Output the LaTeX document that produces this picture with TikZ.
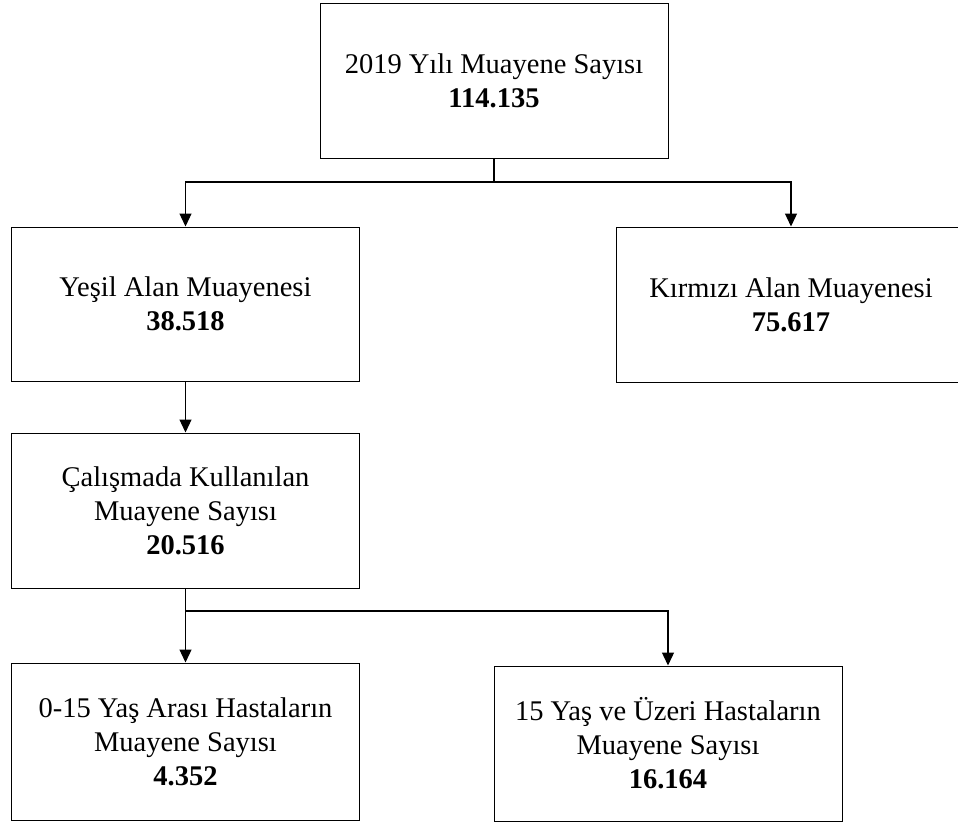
\documentclass[tikz,border=0pt]{standalone}
\usepackage{fontspec}
\setmainfont{Liberation Serif}
\usetikzlibrary{arrows.meta}
\usetikzlibrary{positioning}
\newcommand{\sayi}[1]{\textbf{#1}}

\begin{document}
\begin{tikzpicture}[
        x=1bp, y=-1bp,
        every node/.style={font=\fontsize{28.5bp}{34bp}\selectfont},
        box/.style={rectangle,draw=black,line width=1bp,align=center,
                    minimum width=347bp,minimum height=154bp,inner sep=0pt},
        conn/.style={line width=1.3bp},
        arrow/.style={conn,-{Triangle[length=13bp,width=12bp]}}
      ]
      \useasboundingbox (0,0) rectangle (958,823);
      % boxes
      \node(top)[box,minimum width=348bp] at (494,81) {2019 Yılı Muayene Sayısı\\\sayi{114.135}};
      \node(yesil)[box] at (185.5,304) {Yeşil Alan Muayenesi\\\sayi{38.518}};
      \node(kirmizi)[box,minimum width=350bp,minimum height=155bp] at (791,304.5) {Kırmızı Alan Muayenesi\\\sayi{75.617}};
      \node(calisma)[box,minimum height=155bp] at (185.5,510.5) {Çalışmada Kullanılan\\Muayene Sayısı\\\sayi{20.516}};
      \node(genc)[box,minimum height=157bp] at (185.5,741.5) {0-15 Yaş Arası Hastaların\\Muayene Sayısı\\\sayi{4.352}};
      \node(yetiskin)[box,minimum width=348bp,minimum height=155bp] at (668,743.5) {15 Yaş ve Üzeri Hastaların\\Muayene Sayısı\\\sayi{16.164}};
      % connectors
      \coordinate(split1) at (494,182);
      \coordinate(split2) at (185.5,611);
      \draw[conn] (top.south) -- (split1);
      \draw[arrow] (split1) -| (yesil.north);
      \draw[arrow] (split1) -| (kirmizi.north);
      \draw[arrow] (yesil.south) -- (calisma.north);
      \draw[conn] (calisma.south) -- (split2);
      \draw[arrow] (split2) -- (genc.north);
      \draw[arrow] (split2) -| (yetiskin.north);
\end{tikzpicture}
\end{document}
